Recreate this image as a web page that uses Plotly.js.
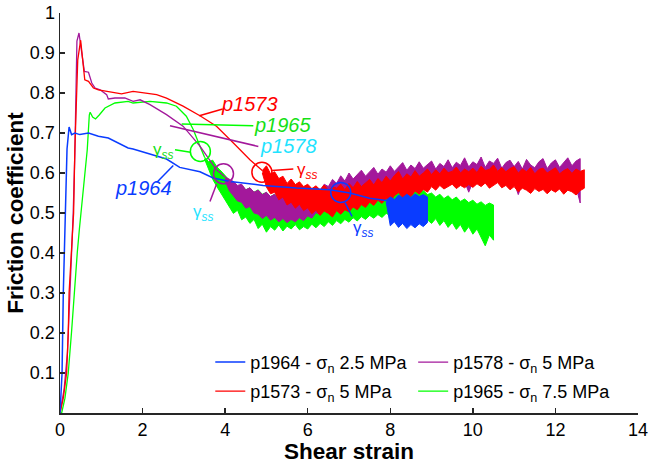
<!DOCTYPE html>
<html>
<head>
<meta charset="utf-8">
<script src="https://cdn.plot.ly/plotly-3.0.1.min.js"></script>
<style>html,body{margin:0;padding:0;background:#fff}#chart{width:650px;height:464px}</style>
</head>
<body>
<div id="chart"></div>
<script>
// ---------- data ----------
const xTicks = [0, 2, 4, 6, 8, 10, 12, 14];
const yTicks = [0.1, 0.2, 0.3, 0.4, 0.5, 0.6, 0.7, 0.8, 0.9, 1];
const yTickText = ["0.1", "0.2", "0.3", "0.4", "0.5", "0.6", "0.7", "0.8", "0.9", "1"];

const seriesNames = ["p1964 - σ<sub>n</sub> 2.5 MPa", "p1573 - σ<sub>n</sub> 5 MPa",
                     "p1578 - σ<sub>n</sub> 5 MPa", "p1965 - σ<sub>n</sub> 7.5 MPa"];

// smooth (pre steady-state) parts
const blueX = [0, 0.05, 0.08, 0.12, 0.17, 0.22, 0.28, 0.36, 0.48, 0.69, 0.93, 1.17, 1.41, 1.65, 1.77, 2.18, 2.58, 2.9, 3.39, 3.71, 4.12, 4.92, 5.73, 6.54, 7.02, 7.5, 7.9];
const blueY = [0, 0.1, 0.3, 0.45, 0.66, 0.715, 0.696, 0.7, 0.696, 0.7, 0.692, 0.6875, 0.675, 0.6625, 0.66, 0.648, 0.635, 0.614, 0.603, 0.5875, 0.579, 0.569, 0.5625, 0.558, 0.55, 0.537, 0.531];

const redX = [0, 0.08, 0.16, 0.2, 0.22, 0.27, 0.33, 0.36, 0.43, 0.5, 0.565, 0.6, 0.69, 0.81, 0.93, 1.17, 1.49, 1.77, 2.02, 2.34, 2.58, 2.98, 3.39, 3.79, 4.2, 4.6, 4.9];
const redY = [0, 0.037, 0.1, 0.2, 0.3, 0.4, 0.5, 0.66, 0.883, 0.932, 0.858, 0.833, 0.829, 0.8125, 0.808, 0.804, 0.798, 0.804, 0.8, 0.796, 0.787, 0.767, 0.743, 0.717, 0.675, 0.633, 0.606];

const purpleX = [0, 0.1, 0.18, 0.22, 0.26, 0.32, 0.36, 0.41, 0.46, 0.52, 0.59, 0.69, 0.77, 0.85, 0.97, 1.13, 1.17, 1.33, 1.57, 1.77, 1.94, 2.18, 2.58, 2.98, 3.39, 3.79, 4.0];
const purpleY = [0, 0.06, 0.15, 0.25, 0.35, 0.5, 0.65, 0.93, 0.95, 0.9, 0.854, 0.852, 0.825, 0.8125, 0.808, 0.796, 0.785, 0.7875, 0.7875, 0.779, 0.783, 0.771, 0.746, 0.717, 0.667, 0.608, 0.59];

const greenX = [0, 0.04, 0.12, 0.2, 0.28, 0.34, 0.42, 0.47, 0.56, 0.66, 0.71, 0.73, 0.79, 0.86, 0.95, 1.09, 1.33, 1.65, 1.77, 2.18, 2.58, 2.82, 3.06, 3.23, 3.39, 3.5];
const greenY = [0, 0, 0.037, 0.1, 0.203, 0.3, 0.403, 0.46, 0.56, 0.658, 0.745, 0.752, 0.74, 0.735, 0.745, 0.7625, 0.775, 0.779, 0.775, 0.779, 0.775, 0.767, 0.742, 0.708, 0.667, 0.64];

// noisy (steady-state) parts: upper / lower envelope on a shared strain grid
const bandX = [3.5, 3.6, 3.7, 3.8, 3.9,
  4.0, 4.1, 4.2, 4.3, 4.4, 4.5, 4.6, 4.7, 4.8, 4.9,
  5.0, 5.1, 5.2, 5.3, 5.4, 5.5, 5.6, 5.7, 5.8, 5.9,
  6.0, 6.1, 6.2, 6.3, 6.4, 6.5, 6.6, 6.7, 6.8, 6.9,
  7.0, 7.1, 7.2, 7.3, 7.4, 7.5, 7.6, 7.7, 7.8, 7.9,
  8.0, 8.1, 8.2, 8.3, 8.4, 8.5, 8.6, 8.7, 8.8, 8.9,
  9.0, 9.1, 9.2, 9.3, 9.4, 9.5, 9.6, 9.7, 9.8, 9.9,
  10.0, 10.1, 10.2, 10.3, 10.4, 10.5, 10.6, 10.7, 10.8, 10.9,
  11.0, 11.1, 11.2, 11.3, 11.4, 11.5, 11.6, 11.7, 11.8, 11.9,
  12.0, 12.1, 12.2, 12.3, 12.4, 12.5, 12.6, 12.7];

const greenStart = 3.5;
const greenHi = [0.64, 0.628, 0.632, 0.615, 0.605,
  0.594, 0.582, 0.574, 0.566, 0.569, 0.558, 0.563, 0.552, 0.558, 0.547,
  0.551, 0.541, 0.547, 0.536, 0.543, 0.532, 0.538, 0.528, 0.534, 0.525,
  0.53, 0.522, 0.528, 0.52, 0.527, 0.521, 0.53, 0.524, 0.534, 0.528,
  0.538, 0.531, 0.543, 0.536, 0.547, 0.54, 0.551, 0.545, 0.556, 0.549,
  0.558, 0.551, 0.562, 0.554, 0.56, 0.552, 0.558, 0.55, 0.556, 0.546,
  0.55, 0.54, 0.547, 0.536, 0.543, 0.533, 0.54, 0.529, 0.535, 0.526,
  0.532, 0.522, 0.528, 0.519, 0.525, 0.52];
const greenLo = [0.635, 0.612, 0.584, 0.566, 0.548,
  0.532, 0.515, 0.499, 0.507, 0.483, 0.49, 0.474, 0.484, 0.461, 0.472,
  0.452, 0.466, 0.457, 0.47, 0.455, 0.467, 0.46, 0.471, 0.458, 0.466,
  0.46, 0.472, 0.463, 0.474, 0.466, 0.478, 0.469, 0.481, 0.473, 0.484,
  0.477, 0.488, 0.48, 0.491, 0.484, 0.494, 0.487, 0.496, 0.489, 0.499,
  0.494, 0.502, 0.496, 0.501, 0.493, 0.499, 0.49, 0.496, 0.487, 0.483,
  0.474, 0.486, 0.469, 0.481, 0.464, 0.476, 0.459, 0.471, 0.452, 0.466,
  0.447, 0.46, 0.441, 0.418, 0.445, 0.432];

const purpleStart = 4.0;
const purpleHi = [0.59, 0.584, 0.579, 0.569, 0.572, 0.558, 0.563, 0.552, 0.557, 0.546,
  0.552, 0.541, 0.547, 0.535, 0.542, 0.531, 0.54, 0.533, 0.544, 0.538,
  0.552, 0.546, 0.561, 0.556, 0.572, 0.566, 0.584, 0.574, 0.593, 0.58,
  0.6, 0.585, 0.596, 0.607, 0.592, 0.603, 0.614, 0.597, 0.61, 0.602,
  0.618, 0.604, 0.614, 0.626, 0.607, 0.62, 0.611, 0.628, 0.612, 0.622,
  0.63, 0.61, 0.624, 0.616, 0.633, 0.613, 0.627, 0.619, 0.638, 0.615,
  0.628, 0.621, 0.64, 0.614, 0.63, 0.624, 0.637, 0.612, 0.626, 0.632,
  0.616, 0.629, 0.61, 0.634, 0.62, 0.613, 0.628, 0.636, 0.611, 0.625,
  0.633, 0.614, 0.627, 0.638, 0.618, 0.63, 0.636];
const purpleLo = [0.58, 0.556, 0.542, 0.53, 0.527, 0.512, 0.516, 0.5, 0.497, 0.486,
  0.494, 0.482, 0.489, 0.478, 0.486, 0.476, 0.484, 0.478, 0.488, 0.481,
  0.493, 0.487, 0.501, 0.496, 0.51, 0.505, 0.52, 0.516, 0.532, 0.527,
  0.541, 0.536, 0.548, 0.543, 0.553, 0.549, 0.558, 0.553, 0.561, 0.557,
  0.565, 0.56, 0.568, 0.564, 0.571, 0.566, 0.573, 0.568, 0.575, 0.571,
  0.576, 0.572, 0.578, 0.574, 0.579, 0.575, 0.578, 0.573, 0.579, 0.552,
  0.578, 0.574, 0.58, 0.576, 0.581, 0.575, 0.58, 0.576, 0.579, 0.574,
  0.577, 0.546, 0.575, 0.571, 0.574, 0.57, 0.573, 0.569, 0.572, 0.568,
  0.571, 0.567, 0.57, 0.566, 0.569, 0.565, 0.525];

const redStart = 4.9;
const redHi = [0.606,
  0.618, 0.598, 0.603, 0.586, 0.592, 0.574, 0.585, 0.571, 0.578, 0.566,
  0.572, 0.561, 0.568, 0.558, 0.57, 0.556, 0.566, 0.562, 0.572, 0.558,
  0.574, 0.563, 0.579, 0.566, 0.576, 0.584, 0.57, 0.586, 0.576, 0.592,
  0.58, 0.594, 0.604, 0.585, 0.598, 0.59, 0.606, 0.592, 0.6, 0.61,
  0.596, 0.608, 0.598, 0.612, 0.601, 0.604, 0.615, 0.6, 0.61, 0.603,
  0.612, 0.601, 0.617, 0.606, 0.609, 0.62, 0.604, 0.614, 0.603, 0.611,
  0.616, 0.6, 0.61, 0.603, 0.614, 0.598, 0.609, 0.612, 0.6, 0.607,
  0.613, 0.598, 0.606, 0.611, 0.599, 0.61, 0.604, 0.608];
const redLo = [0.6,
  0.565, 0.548, 0.552, 0.533, 0.54, 0.52, 0.527, 0.512, 0.522, 0.506,
  0.513, 0.498, 0.507, 0.494, 0.505, 0.499, 0.49, 0.506, 0.497, 0.508,
  0.503, 0.515, 0.508, 0.521, 0.514, 0.527, 0.519, 0.532, 0.524, 0.536,
  0.529, 0.543, 0.551, 0.538, 0.547, 0.541, 0.555, 0.547, 0.559, 0.552,
  0.566, 0.557, 0.569, 0.56, 0.565, 0.572, 0.561, 0.569, 0.563, 0.571,
  0.564, 0.573, 0.566, 0.575, 0.562, 0.57, 0.576, 0.563, 0.569, 0.558,
  0.566, 0.553, 0.562, 0.557, 0.549, 0.561, 0.554, 0.559, 0.548, 0.558,
  0.552, 0.56, 0.547, 0.557, 0.553, 0.545, 0.556, 0.562];

const blueStart = 7.9;
const blueHi = [0.532, 0.54, 0.534, 0.545, 0.538, 0.547, 0.539, 0.548, 0.541, 0.546, 0.54];
const blueLo = [0.528, 0.468, 0.478, 0.464, 0.474, 0.461, 0.471, 0.463, 0.473, 0.466, 0.476];

// ---------- styling ----------
const FONT = "Liberation Sans, Arial, sans-serif";
const C = {blue: "#0a3cff", red: "#ff0000", purple: "#a3189b", green: "#00ff00",
           greenTxt: "#14e014", cyanTxt: "#1fe3ff"};

function band(start, hi, lo, color) {
  const i0 = bandX.indexOf(start);
  const xs = bandX.slice(i0, i0 + hi.length);
  return {
    x: xs.concat(xs.slice().reverse()),
    y: hi.concat(lo.slice().reverse()),
    mode: "lines", fill: "toself", fillcolor: color,
    line: {color: color, width: 1}, showlegend: false, hoverinfo: "skip"
  };
}
function curve(x, y, color, name, legend, w) {
  return {x: x, y: y, mode: "lines", name: name, legend: legend,
          line: {color: color, width: w || 1.3}};
}

// draw order: green (bottom), purple, red, blue (top)
const traces = [
  band(greenStart, greenHi, greenLo, C.green),
  curve(greenX, greenY, C.green, seriesNames[3], "legend4"),
  band(purpleStart, purpleHi, purpleLo, C.purple),
  curve(purpleX, purpleY, C.purple, seriesNames[2], "legend3"),
  band(redStart, redHi, redLo, C.red),
  curve(redX, redY, C.red, seriesNames[1], "legend2"),
  band(blueStart, blueHi, blueLo, C.blue),
  curve(blueX, blueY, C.blue, seriesNames[0], "legend", 1.5)
];

function leg(x, y) {
  return {x: x, y: y, xanchor: "left", yanchor: "middle", bgcolor: "rgba(0,0,0,0)",
          borderwidth: 0, itemwidth: 30, font: {family: FONT, size: 18, color: "#000"}};
}
function circ(cx, cy, color) {
  return {type: "circle", xref: "x", yref: "y", xsizemode: "pixel", ysizemode: "pixel",
          xanchor: cx, yanchor: cy, x0: -10, x1: 10, y0: -10, y1: 10,
          line: {color: color, width: 1.5}};
}
function seg(x0, y0, x1, y1, color) {
  return {type: "line", xref: "x", yref: "y", x0: x0, y0: y0, x1: x1, y1: y1,
          line: {color: color, width: 1.5}};
}
function lab(x, y, text, color, size) {
  return {x: x, y: y, xref: "x", yref: "y", text: text, showarrow: false,
          font: {family: FONT, size: size, color: color}, xanchor: "center", yanchor: "middle"};
}
const GSS = "γ<sub><i>ss</i></sub>";

const layout = {
  width: 650, height: 464,
  margin: {l: 60, r: 12, t: 13, b: 51},
  paper_bgcolor: "#fff", plot_bgcolor: "#fff",
  font: {family: FONT, color: "#000"},
  xaxis: {
    range: [0, 14], tickvals: xTicks, ticks: "inside", ticklen: 5, tickwidth: 1.3,
    tickcolor: "#262626", showline: true, linecolor: "#262626", linewidth: 1.5,
    showgrid: false, zeroline: false, automargin: false,
    tickfont: {family: FONT, size: 18, color: "#000"},
    title: {text: "<b>Shear strain</b>", font: {family: FONT, size: 22.5, color: "#000"}, standoff: 4}
  },
  yaxis: {
    range: [0, 1], tickvals: yTicks, ticktext: yTickText, ticks: "inside", ticklen: 5, tickwidth: 1.3,
    tickcolor: "#262626", showline: true, linecolor: "#262626", linewidth: 1.5,
    showgrid: false, zeroline: false, automargin: false,
    tickfont: {family: FONT, size: 18, color: "#000"},
    title: {text: "<b>Friction coefficient</b>", font: {family: FONT, size: 22.5, color: "#000"}, standoff: 0}
  },
  legend: leg(0.26, 0.1265),
  legend2: leg(0.26, 0.054),
  legend3: leg(0.611, 0.1265),
  legend4: leg(0.611, 0.054),
  shapes: [
    circ(3.40, 0.654, C.green), circ(3.96, 0.598, C.purple),
    circ(4.89, 0.602, C.red), circ(6.80, 0.5515, C.blue),
    seg(3.374, 0.743, 3.941, 0.76, C.red),
    seg(2.948, 0.7225, 4.682, 0.718, C.green),
    seg(2.664, 0.718, 4.803, 0.6665, C.purple),
    seg(2.342, 0.5765, 2.744, 0.619, C.blue),
    seg(2.785, 0.658, 3.161, 0.652, C.green),
    seg(3.791, 0.572, 3.633, 0.529, C.purple),
    seg(5.135, 0.606, 5.651, 0.61, C.red),
    seg(6.903, 0.526, 7.073, 0.4915, C.blue)
  ],
  annotations: [
    lab(4.595, 0.773, "<i>p1573</i>", C.red, 20),
    lab(5.401, 0.721, "<i>p1965</i>", C.greenTxt, 20),
    lab(5.535, 0.668, "<i>p1578</i>", C.cyanTxt, 20),
    lab(2.03, 0.563, "<i>p1964</i>", C.blue, 20),
    lab(2.495, 0.656, GSS, C.greenTxt, 17),
    lab(3.464, 0.501, GSS, C.cyanTxt, 17),
    lab(5.983, 0.606, GSS, C.red, 17),
    lab(7.339, 0.461, GSS, C.blue, 17)
  ]
};

Plotly.newPlot("chart", traces, layout, {displayModeBar: false, staticPlot: true});
</script>
</body>
</html>
